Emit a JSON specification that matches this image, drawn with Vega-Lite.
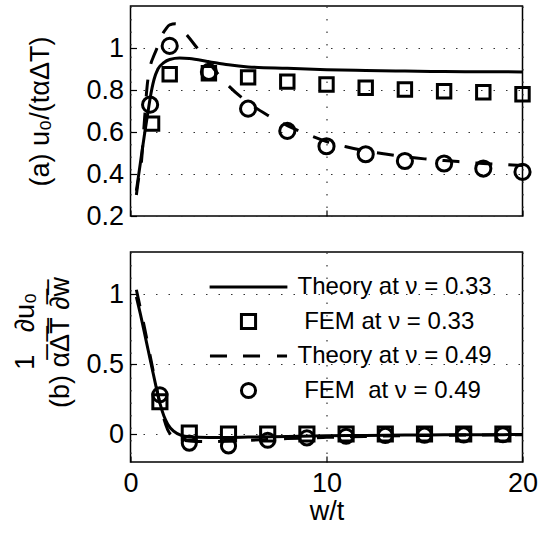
{
  "$schema": "https://vega.github.io/schema/vega-lite/v6.json",
  "background": "white",
  "padding": {"left": 10.5, "top": 5, "right": 5, "bottom": 5},
  "spacing": 21,
  "resolve": {"legend": {"shape": "independent"}, "scale": {"shape": "independent"}},
  "config": {
    "view": {"stroke": "black", "strokeWidth": 1.5},
    "font": "Liberation Sans",
    "axis": {
      "domain": false,
      "grid": true,
      "gridColor": "#333333",
      "gridDash": [1.5, 11],
      "gridWidth": 1.2,
      "ticks": true,
      "tickColor": "black",
      "tickSize": -6,
      "tickWidth": 1.2,
      "labelFlush": false,
      "labelFont": "Liberation Sans",
      "labelFontSize": 27,
      "labelColor": "black",
      "titleFont": "Liberation Sans",
      "titleFontSize": 27,
      "titleFontWeight": "normal",
      "titleColor": "black",
      "titleLimit": 1000
    }
  },
  "datasets": {
    "d": [
      {"p": "a", "s": "T33", "x": 0.3, "y": 0.32},
      {"p": "a", "s": "T33", "x": 0.5, "y": 0.45},
      {"p": "a", "s": "T33", "x": 0.7, "y": 0.58},
      {"p": "a", "s": "T33", "x": 0.9, "y": 0.7},
      {"p": "a", "s": "T33", "x": 1.0, "y": 0.76},
      {"p": "a", "s": "T33", "x": 1.1, "y": 0.81},
      {"p": "a", "s": "T33", "x": 1.2, "y": 0.85},
      {"p": "a", "s": "T33", "x": 1.4, "y": 0.9},
      {"p": "a", "s": "T33", "x": 1.7, "y": 0.93},
      {"p": "a", "s": "T33", "x": 2.0, "y": 0.945},
      {"p": "a", "s": "T33", "x": 2.5, "y": 0.952},
      {"p": "a", "s": "T33", "x": 3.0, "y": 0.95},
      {"p": "a", "s": "T33", "x": 4.0, "y": 0.935},
      {"p": "a", "s": "T33", "x": 5.0, "y": 0.92},
      {"p": "a", "s": "T33", "x": 6.0, "y": 0.91},
      {"p": "a", "s": "T33", "x": 8.0, "y": 0.903},
      {"p": "a", "s": "T33", "x": 10.0, "y": 0.897},
      {"p": "a", "s": "T33", "x": 12.0, "y": 0.893},
      {"p": "a", "s": "T33", "x": 14.0, "y": 0.89},
      {"p": "a", "s": "T33", "x": 16.0, "y": 0.888},
      {"p": "a", "s": "T33", "x": 18.0, "y": 0.887},
      {"p": "a", "s": "T33", "x": 20.0, "y": 0.886},
      {"p": "a", "s": "T49", "x": 0.3, "y": 0.3},
      {"p": "a", "s": "T49", "x": 0.4, "y": 0.37},
      {"p": "a", "s": "T49", "x": 0.55, "y": 0.45},
      {"p": "a", "s": "T49", "x": 0.7, "y": 0.64},
      {"p": "a", "s": "T49", "x": 0.85, "y": 0.82},
      {"p": "a", "s": "T49", "x": 1.0, "y": 0.91},
      {"p": "a", "s": "T49", "x": 1.2, "y": 0.965},
      {"p": "a", "s": "T49", "x": 1.4, "y": 1.01},
      {"p": "a", "s": "T49", "x": 1.6, "y": 1.06},
      {"p": "a", "s": "T49", "x": 1.8, "y": 1.09},
      {"p": "a", "s": "T49", "x": 2.0, "y": 1.11},
      {"p": "a", "s": "T49", "x": 2.3, "y": 1.115},
      {"p": "a", "s": "T49", "x": 2.8, "y": 1.07},
      {"p": "a", "s": "T49", "x": 3.4, "y": 1.0},
      {"p": "a", "s": "T49", "x": 4.0, "y": 0.93},
      {"p": "a", "s": "T49", "x": 4.9, "y": 0.83},
      {"p": "a", "s": "T49", "x": 6.0, "y": 0.74},
      {"p": "a", "s": "T49", "x": 7.0, "y": 0.68},
      {"p": "a", "s": "T49", "x": 8.0, "y": 0.63},
      {"p": "a", "s": "T49", "x": 9.0, "y": 0.59},
      {"p": "a", "s": "T49", "x": 10.0, "y": 0.555},
      {"p": "a", "s": "T49", "x": 11.0, "y": 0.53},
      {"p": "a", "s": "T49", "x": 12.0, "y": 0.51},
      {"p": "a", "s": "T49", "x": 13.0, "y": 0.495},
      {"p": "a", "s": "T49", "x": 14.0, "y": 0.482},
      {"p": "a", "s": "T49", "x": 15.0, "y": 0.472},
      {"p": "a", "s": "T49", "x": 16.0, "y": 0.464},
      {"p": "a", "s": "T49", "x": 17.0, "y": 0.457},
      {"p": "a", "s": "T49", "x": 18.0, "y": 0.45},
      {"p": "a", "s": "T49", "x": 19.0, "y": 0.445},
      {"p": "a", "s": "T49", "x": 20.0, "y": 0.44},
      {"p": "a", "s": "F33", "x": 1.1, "y": 0.64},
      {"p": "a", "s": "F33", "x": 2, "y": 0.875},
      {"p": "a", "s": "F33", "x": 4, "y": 0.88},
      {"p": "a", "s": "F33", "x": 6, "y": 0.86},
      {"p": "a", "s": "F33", "x": 8, "y": 0.84},
      {"p": "a", "s": "F33", "x": 10, "y": 0.826},
      {"p": "a", "s": "F33", "x": 12, "y": 0.811},
      {"p": "a", "s": "F33", "x": 14, "y": 0.802},
      {"p": "a", "s": "F33", "x": 16, "y": 0.794},
      {"p": "a", "s": "F33", "x": 18, "y": 0.789},
      {"p": "a", "s": "F33", "x": 20, "y": 0.78},
      {"p": "a", "s": "F49", "x": 1, "y": 0.73},
      {"p": "a", "s": "F49", "x": 2, "y": 1.01},
      {"p": "a", "s": "F49", "x": 4, "y": 0.886},
      {"p": "a", "s": "F49", "x": 6, "y": 0.711},
      {"p": "a", "s": "F49", "x": 8, "y": 0.605},
      {"p": "a", "s": "F49", "x": 10, "y": 0.532},
      {"p": "a", "s": "F49", "x": 12, "y": 0.494},
      {"p": "a", "s": "F49", "x": 14, "y": 0.462},
      {"p": "a", "s": "F49", "x": 16, "y": 0.45},
      {"p": "a", "s": "F49", "x": 18, "y": 0.426},
      {"p": "a", "s": "F49", "x": 20, "y": 0.41},
      {"p": "b", "s": "T33", "x": 0.3, "y": 0.98},
      {"p": "b", "s": "T33", "x": 0.5, "y": 0.86},
      {"p": "b", "s": "T33", "x": 0.7, "y": 0.73},
      {"p": "b", "s": "T33", "x": 0.9, "y": 0.6},
      {"p": "b", "s": "T33", "x": 1.1, "y": 0.47},
      {"p": "b", "s": "T33", "x": 1.3, "y": 0.34},
      {"p": "b", "s": "T33", "x": 1.5, "y": 0.22},
      {"p": "b", "s": "T33", "x": 1.7, "y": 0.13},
      {"p": "b", "s": "T33", "x": 1.9, "y": 0.07},
      {"p": "b", "s": "T33", "x": 2.2, "y": 0.02},
      {"p": "b", "s": "T33", "x": 2.6, "y": -0.01},
      {"p": "b", "s": "T33", "x": 3, "y": -0.02},
      {"p": "b", "s": "T33", "x": 4, "y": -0.025},
      {"p": "b", "s": "T33", "x": 6, "y": -0.022},
      {"p": "b", "s": "T33", "x": 8, "y": -0.017},
      {"p": "b", "s": "T33", "x": 10, "y": -0.013},
      {"p": "b", "s": "T33", "x": 12, "y": -0.01},
      {"p": "b", "s": "T33", "x": 14, "y": -0.008},
      {"p": "b", "s": "T33", "x": 16, "y": -0.006},
      {"p": "b", "s": "T33", "x": 18, "y": -0.005},
      {"p": "b", "s": "T33", "x": 20, "y": -0.004},
      {"p": "b", "s": "T49", "x": 0.3, "y": 1.03},
      {"p": "b", "s": "T49", "x": 0.5, "y": 0.9},
      {"p": "b", "s": "T49", "x": 0.7, "y": 0.77},
      {"p": "b", "s": "T49", "x": 0.9, "y": 0.63},
      {"p": "b", "s": "T49", "x": 1.1, "y": 0.49},
      {"p": "b", "s": "T49", "x": 1.3, "y": 0.35},
      {"p": "b", "s": "T49", "x": 1.5, "y": 0.22},
      {"p": "b", "s": "T49", "x": 1.7, "y": 0.11},
      {"p": "b", "s": "T49", "x": 1.9, "y": 0.03},
      {"p": "b", "s": "T49", "x": 2.2, "y": -0.02},
      {"p": "b", "s": "T49", "x": 2.6, "y": -0.04},
      {"p": "b", "s": "T49", "x": 3, "y": -0.05},
      {"p": "b", "s": "T49", "x": 4, "y": -0.055},
      {"p": "b", "s": "T49", "x": 5, "y": -0.05},
      {"p": "b", "s": "T49", "x": 6, "y": -0.045},
      {"p": "b", "s": "T49", "x": 8, "y": -0.033},
      {"p": "b", "s": "T49", "x": 10, "y": -0.024},
      {"p": "b", "s": "T49", "x": 12, "y": -0.017},
      {"p": "b", "s": "T49", "x": 14, "y": -0.012},
      {"p": "b", "s": "T49", "x": 16, "y": -0.009},
      {"p": "b", "s": "T49", "x": 18, "y": -0.007},
      {"p": "b", "s": "T49", "x": 20, "y": -0.005},
      {"p": "b", "s": "F33", "x": 1.5, "y": 0.23},
      {"p": "b", "s": "F33", "x": 3, "y": 0.007},
      {"p": "b", "s": "F33", "x": 5, "y": 0.0},
      {"p": "b", "s": "F33", "x": 7, "y": 0.0},
      {"p": "b", "s": "F33", "x": 9, "y": 0.0},
      {"p": "b", "s": "F33", "x": 11, "y": 0.0},
      {"p": "b", "s": "F33", "x": 13, "y": 0.0},
      {"p": "b", "s": "F33", "x": 15, "y": 0.0},
      {"p": "b", "s": "F33", "x": 17, "y": 0.0},
      {"p": "b", "s": "F33", "x": 19, "y": 0.0},
      {"p": "b", "s": "F49", "x": 1.5, "y": 0.28},
      {"p": "b", "s": "F49", "x": 3, "y": -0.065},
      {"p": "b", "s": "F49", "x": 5, "y": -0.085},
      {"p": "b", "s": "F49", "x": 7, "y": -0.045},
      {"p": "b", "s": "F49", "x": 9, "y": -0.028},
      {"p": "b", "s": "F49", "x": 11, "y": -0.016},
      {"p": "b", "s": "F49", "x": 13, "y": -0.01},
      {"p": "b", "s": "F49", "x": 15, "y": -0.008},
      {"p": "b", "s": "F49", "x": 17, "y": -0.006},
      {"p": "b", "s": "F49", "x": 19, "y": -0.005}
    ]
  },
  "vconcat": [
    {
      "width": 392,
      "height": 210,
      "data": {"name": "d"},
      "transform": [{"filter": "datum.p == 'a'"}],
      "encoding": {
        "x": {"field": "x", "type": "quantitative", "scale": {"domain": [0, 20], "nice": false}, "axis": {"values": [0, 10, 20], "labels": false, "title": null}},
        "y": {"field": "y", "type": "quantitative", "scale": {"domain": [0.2, 1.2], "nice": false, "zero": false}, "axis": {"values": [0.2, 0.4, 0.6, 0.8, 1], "format": "~g", "labelPadding": 13, "title": "(a) u\u2080/(t\u03b1\u0394T)", "titlePadding": 31}}
      },
      "layer": [
        {"transform": [{"filter": "datum.s == 'T33'"}], "mark": {"type": "line", "color": "black", "strokeWidth": 3, "interpolate": "monotone"}},
        {"transform": [{"filter": "datum.s == 'T49'"}], "mark": {"type": "line", "color": "black", "strokeWidth": 3, "strokeDash": [17, 16], "interpolate": "monotone"}},
        {"transform": [{"filter": "datum.s == 'F33'"}], "mark": {"type": "point", "shape": "square", "size": 180, "filled": false, "color": "black", "strokeWidth": 3, "opacity": 1}},
        {"transform": [{"filter": "datum.s == 'F49'"}], "mark": {"type": "point", "shape": "circle", "size": 230, "filled": false, "color": "black", "strokeWidth": 3, "opacity": 1}}
      ]
    },
    {
      "width": 392,
      "height": 210,
      "data": {"name": "d"},
      "transform": [{"filter": "datum.p == 'b'"}],
      "encoding": {
        "x": {"field": "x", "type": "quantitative", "scale": {"domain": [0, 20], "nice": false}, "axis": {"values": [0, 10, 20], "labelPadding": 14, "title": "w/t", "titlePadding": 2}},
        "y": {"field": "y", "type": "quantitative", "scale": {"domain": [-0.2, 1.3], "nice": false, "zero": false}, "axis": {"values": [0, 0.5, 1], "format": "~g", "labelPadding": 13, "title": ["\u200b\u00a0\u00a0\u00a0\u00a0\u00a0\u00a0\u00a01\u00a0\u00a0\u00a0\u2202u\u2080", "\u200b\u00a0\u00a0\u00a0\u00a0(b) \u03b1\u0305\u0394\u0305T\u0305 \u2202\u0305w\u0305"], "titleLineHeight": 35, "titlePadding": 11}}
      },
      "layer": [
        {"transform": [{"filter": "datum.s == 'T33'"}], "mark": {"type": "line", "color": "black", "strokeWidth": 3, "interpolate": "monotone"}},
        {"transform": [{"filter": "datum.s == 'T49'"}], "mark": {"type": "line", "color": "black", "strokeWidth": 3, "strokeDash": [17, 16], "interpolate": "monotone"}},
        {
          "transform": [{"filter": "datum.s == 'F33' || datum.s == 'F49'"}],
          "mark": {"type": "point", "size": 200, "filled": false, "color": "black", "strokeWidth": 3, "opacity": 1},
          "encoding": {
            "shape": {
              "field": "s",
              "type": "nominal",
              "scale": {"domain": ["T33", "F33", "T49", "F49"], "range": ["M-5.5,0H5.5", "square", "M-5.45,0H-3.04M-0.78,0H1.63M4.03,0H5.45", "circle"]},
              "legend": {
                "orient": "none",
                "legendX": 106,
                "legendY": 23,
                "title": null,
                "padding": 0,
                "labelExpr": "datum.label == 'T33' ? 'Theory at \u03bd = 0.33' : datum.label == 'F33' ? '\u200b\u00a0FEM at \u03bd = 0.33' : datum.label == 'T49' ? 'Theory at \u03bd = 0.49' : '\u200b\u00a0FEM\u00a0 at \u03bd = 0.49'",
                "labelFont": "Liberation Sans",
                "labelFontSize": 24,
                "labelColor": "black",
                "labelOffset": 37,
                "labelLimit": 400,
                "symbolSize": 200,
                "symbolStrokeWidth": 3,
                "symbolStrokeColor": "black",
                "rowPadding": 8.5
              }
            }
          }
        }
      ]
    }
  ]
}
